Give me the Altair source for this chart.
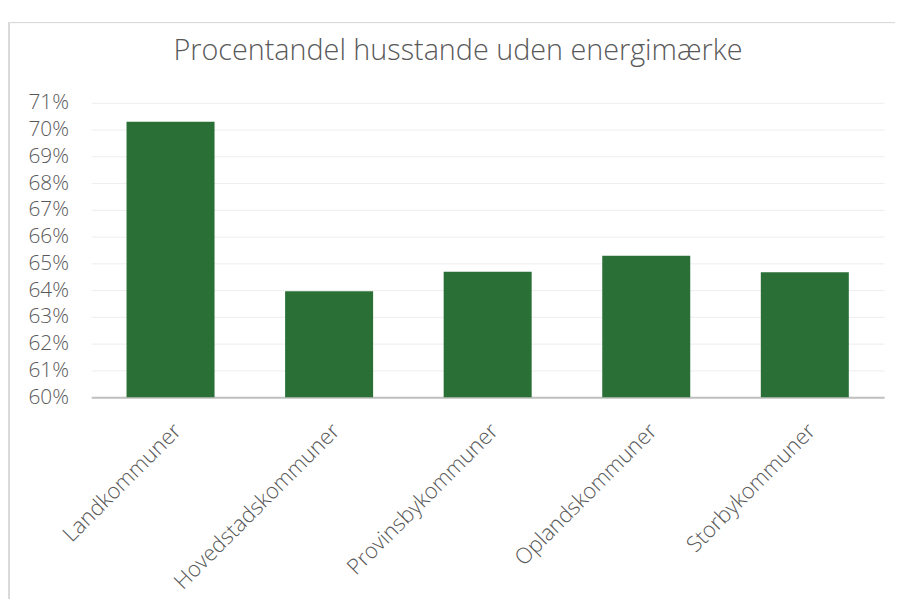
import altair as alt
import pandas as pd

categories = ["Landkommuner", "Hovedstadskommuner", "Provinsbykommuner", "Oplandskommuner", "Storbykommuner"]
values = [0.7029, 0.6396, 0.6469, 0.6528, 0.6467]
y_ticks = [0.60, 0.61, 0.62, 0.63, 0.64, 0.65, 0.66, 0.67, 0.68, 0.69, 0.70, 0.71]
title_text = ["Procentandel husstande uden energimærke"]

df = pd.DataFrame({"kategori": categories, "andel": values})
df_title = pd.DataFrame({"t": title_text})

FONT = "Open Sans"
TXT = "#595959"

bars = alt.Chart(df).mark_bar(color="#2a7036", clip=True).encode(
    x=alt.X("kategori:N", sort=categories, title=None,
            scale=alt.Scale(paddingInner=0.445, paddingOuter=0.2225),
            axis=alt.Axis(labelAngle=-45, labelFontSize=22, labelColor=TXT, labelFont=FONT,
                          labelFontWeight=300,
                          ticks=False, domainColor="#bfbfbf", domainWidth=2,
                          labelPadding=23, labelLimit=400, grid=False)),
    y=alt.Y("andel:Q", title=None,
            scale=alt.Scale(domain=[0.60, 0.71], nice=False, zero=False),
            axis=alt.Axis(values=y_ticks, format=".0%", labelFontSize=21, labelColor=TXT,
                          labelFont=FONT, labelFontWeight=300, ticks=False, domain=False,
                          labelPadding=23, gridColor="#ededed", gridWidth=1)),
)

frame = alt.Chart(df).mark_rect(fill=None, stroke="#d9d9d9", strokeWidth=1).encode(
    x=alt.value(-83), x2=alt.value(900), y=alt.value(-81), y2=alt.value(600)
)

title = alt.Chart(df_title).mark_text(font=FONT, fontSize=29, fontWeight=300, color=TXT,
                                      align="center", baseline="alphabetic").encode(
    text="t:N", x=alt.value(370), y=alt.value(-43)
)

chart = alt.layer(frame, bars, title).properties(
    width=800, height=297,
    autosize=alt.AutoSizeParams(type="none"),
    padding={"left": 84, "top": 93, "right": 11, "bottom": 201},
).configure_view(stroke=None)

chart.save("out.html", embed_options={"renderer": "svg", "actions": False})
